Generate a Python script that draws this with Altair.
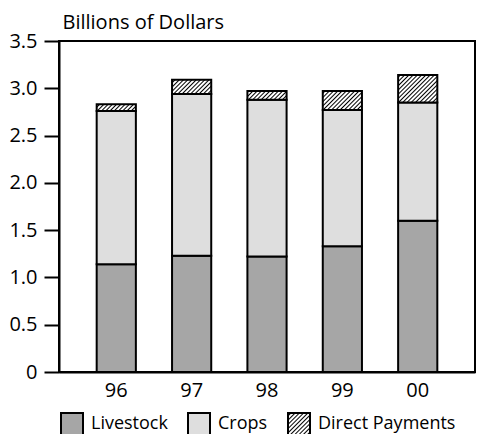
import altair as alt
import jinja2
import pandas as pd

years = ["96", "97", "98", "99", "00"]
livestock = [1.14, 1.23, 1.22, 1.33, 1.60]
crops = [1.62, 1.71, 1.66, 1.44, 1.25]
direct_payments = [0.07, 0.15, 0.09, 0.20, 0.29]

series = ["Livestock", "Crops", "Direct Payments"]
fills = ["#a6a6a6", "#dedede", "url(#hatch)"]

rows = []
for i, yr in enumerate(years):
    for k, (name, vals) in enumerate(zip(series, [livestock, crops, direct_payments])):
        rows.append({"year": yr, "series": name, "order": k, "value": vals[i]})
df = pd.DataFrame(rows)

FONT = "Open Sans"

# page template with an svg hatch pattern the bars can point at
TEMPLATE = jinja2.Template("""<!DOCTYPE html>
<html>
<head>
<style>
  html, body { margin: 0; padding: 0; overflow: hidden; }
  #{{ output_div }} { position: absolute; left: 8px; top: 8px; overflow: visible; }
  #{{ output_div }} svg { overflow: visible; }
</style>
<script type="text/javascript" src="{{ base_url }}/vega@{{ vega_version }}"></script>
<script type="text/javascript" src="{{ base_url }}/vega-lite@{{ vegalite_version }}"></script>
<script type="text/javascript" src="{{ base_url }}/vega-embed@{{ vegaembed_version }}"></script>
</head>
<body>
<svg width="0" height="0" style="position:absolute">
  <defs>
    <pattern id="hatch" patternUnits="userSpaceOnUse" width="3" height="3" patternTransform="rotate(45)">
      <rect width="3" height="3" fill="white"/>
      <line x1="1.5" y1="0" x2="1.5" y2="3" stroke="black" stroke-width="1"/>
    </pattern>
  </defs>
</svg>
<div id="{{ output_div }}"></div>
<script type="text/javascript">
  vegaEmbed("#{{ output_div }}", {{ spec }}, {{ embed_options }}).catch(console.error);
</script>
</body>
</html>""")

chart = alt.Chart(df).mark_bar(stroke="black", strokeWidth=2).encode(
    x=alt.X("year:N", sort=years, title=None,
            scale=alt.Scale(paddingInner=0.48, paddingOuter=0.5),
            axis=alt.Axis(labelAngle=0, ticks=False, labelPadding=8, labelFontSize=20,
                          domainColor="black", domainWidth=2)),
    y=alt.Y("sum(value):Q", title="Billions of Dollars",
            scale=alt.Scale(domain=[0, 3.5], nice=False),
            axis=alt.Axis(values=[0, 0.5, 1.0, 1.5, 2.0, 2.5, 3.0, 3.5], grid=False,
                          labelExpr="datum.value == 0 ? '0' : format(datum.value, '.1f')",
                          tickSize=15, tickWidth=2, tickColor="black", labelPadding=7,
                          labelFontSize=20, domainColor="black", domainWidth=2,
                          titleAngle=0, titleAlign="left", titleBaseline="alphabetic",
                          titleX=3, titleY=-13, titleFontSize=20, titleFontWeight="normal")),
    color=alt.Color("series:N", sort=series,
                    scale=alt.Scale(domain=series, range=fills),
                    legend=alt.Legend(title=None, orient="none", direction="horizontal",
                                      legendX=1, legendY=371, symbolType="square",
                                      symbolSize=484, symbolStrokeColor="black",
                                      symbolStrokeWidth=2, labelFontSize=18,
                                      labelOffset=7, columnPadding=16)),
    order=alt.Order("order:Q"),
).properties(
    width=416, height=331,
    autosize=alt.AutoSizeParams(type="none"),
    padding={"left": 51, "top": 33, "right": 3, "bottom": 60},
).configure_view(
    stroke="black", strokeWidth=2
).configure_axis(
    labelColor="black", titleColor="black", labelFont=FONT, titleFont=FONT
).configure_legend(
    labelColor="black", labelFont=FONT
)

chart.save("out.html", embed_options={"renderer": "svg", "actions": False}, template=TEMPLATE)
